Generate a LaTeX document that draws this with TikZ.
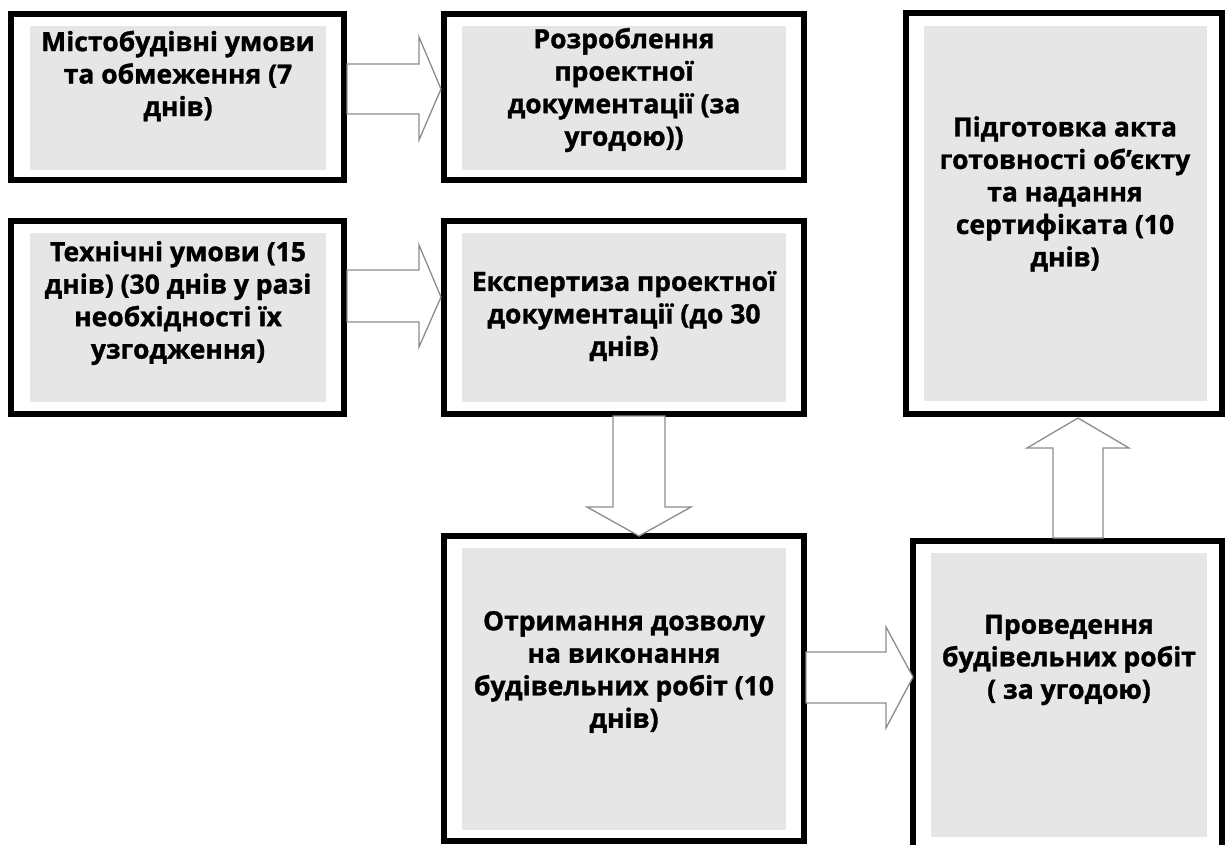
\documentclass[tikz,border=0pt]{standalone}
\usepackage{fontspec}
\setmainfont{Open Sans}[BoldFeatures={FakeBold=1.2}]
\definecolor{boxgray}{HTML}{E6E6E6}
\definecolor{arrowgray}{HTML}{8C8C8C}
\tikzset{
  x=1pt, y=-1pt,
  outerbox/.style={draw=black, line width=6pt, fill=white, inner sep=0pt},
  graybox/.style={fill=boxgray, inner sep=0pt},
  lbl/.style={font=\fontsize{26.5}{32.5}\selectfont\bfseries, align=center, text=black, inner sep=0pt},
  barrow/.style={draw=arrowgray, fill=white, line width=1.3pt, line join=miter},
}
\begin{document}
\begin{tikzpicture}
\useasboundingbox (0,0) rectangle (1225,844);
\clip (0,0) rectangle (1225,844);
% outer boxes
\node[outerbox, minimum width=333pt, minimum height=166pt] (b1) at (177.5,97) {};
\node[outerbox, minimum width=360pt, minimum height=166pt] (b2) at (624,97) {};
\node[outerbox, minimum width=333pt, minimum height=193pt] (b4) at (177.5,317.5) {};
\node[outerbox, minimum width=360pt, minimum height=193pt] (bE) at (624,317.5) {};
\node[outerbox, minimum width=360pt, minimum height=305pt] (b5) at (624,688.5) {};
\node[outerbox, minimum width=316pt, minimum height=401pt] (b3) at (1064,213.5) {};
\node[outerbox, minimum width=309pt, minimum height=339pt] (b6) at (1067.5,710.5) {};
% gray panels
\node[graybox, minimum width=296pt, minimum height=144pt] (g1) at (178,98) {};
\node[graybox, minimum width=324pt, minimum height=144pt] (g2) at (624,98) {};
\node[graybox, minimum width=296pt, minimum height=169pt] (g4) at (178,317.5) {};
\node[graybox, minimum width=324pt, minimum height=169pt] (gE) at (624,317.5) {};
\node[graybox, minimum width=324pt, minimum height=282pt] (g5) at (624,689) {};
\node[graybox, minimum width=283pt, minimum height=375pt] (g3) at (1065.5,213.5) {};
\node[graybox, minimum width=276pt, minimum height=284pt] (g6) at (1069,695) {};
% texts
\node[lbl] (t1) at (178,76) {Містобудівні умови\\та обмеження (7\\днів)};
\node[lbl] (t2) at (624,90) {Розроблення\\проектної\\документації (за\\угодою))};
\node[lbl] (t4) at (178,303) {Технічні умови (15\\днів) (30 днів у разі\\необхідності їх\\узгодження)};
\node[lbl] (tE) at (624,316) {Експертиза проектної\\документації (до 30\\днів)};
\node[lbl] (t5) at (624,672) {Отримання дозволу\\на виконання\\будівельних робіт (10\\днів)};
\node[lbl] (t6) at (1069,660) {Проведення\\будівельних робіт\\( за угодою)};
\node[lbl] (t3) at (1065,194) {Підготовка акта\\готовності об’єкту\\та надання\\сертифіката (10\\днів)};
% block arrows
\draw[barrow] (b1.east |- 0,64) -- (419,64) -- (419,37) -- (b2.west |- 0,89) -- (419,140) -- (419,114) -- (b1.east |- 0,114) -- cycle;
\draw[barrow] (b4.east |- 0,270) -- (419,270) -- (419,245) -- (bE.west |- 0,297) -- (419,347) -- (419,322) -- (b4.east |- 0,322) -- cycle;
\draw[barrow] (613,416) -- (613,507) -- (587,507) -- (639,536) -- (691,507) -- (665,507) -- (665,416) -- cycle;
\draw[barrow] (806,652) -- (886,652) -- (886,627) -- (913,677) -- (886,728) -- (886,703) -- (806,703) -- cycle;
\draw[barrow] (1053,538) -- (1053,448) -- (1027,448) -- (1078,418) -- (1129,448) -- (1103,448) -- (1103,538) -- cycle;
\end{tikzpicture}
\end{document}
